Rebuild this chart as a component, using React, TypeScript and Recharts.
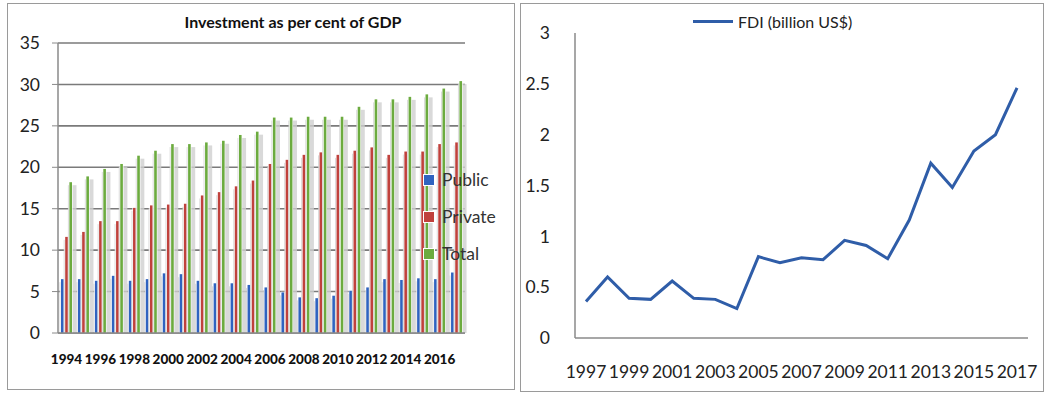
import { BarChart, Bar, LineChart, Line, XAxis, YAxis, CartesianGrid } from 'recharts';

const investYears = [
  '1994', '1995', '1996', '1997', '1998', '1999', '2000', '2001', '2002', '2003', '2004', '2005',
  '2006', '2007', '2008', '2009', '2010', '2011', '2012', '2013', '2014', '2015', '2016', '2017',
];
const publicInv = [6.5, 6.5, 6.3, 6.9, 6.3, 6.5, 7.2, 7.1, 6.3, 6.0, 6.0, 5.8, 5.5, 4.9, 4.3, 4.2, 4.5, 5.1, 5.5, 6.5, 6.4, 6.6, 6.5, 7.3];
const privateInv = [11.6, 12.2, 13.5, 13.5, 15.1, 15.4, 15.5, 15.6, 16.6, 17.0, 17.7, 18.4, 20.4, 20.9, 21.5, 21.8, 21.5, 22.0, 22.4, 21.5, 21.9, 21.9, 22.8, 23.0];
const totalInv = [18.2, 18.9, 19.8, 20.4, 21.4, 22.0, 22.8, 22.8, 23.0, 23.2, 23.9, 24.3, 26.0, 26.0, 26.1, 26.1, 26.1, 27.3, 28.2, 28.2, 28.5, 28.8, 29.5, 30.4];
const investTicks = [0, 5, 10, 15, 20, 25, 30, 35];
const investSeries = [
  { key: 'Public', color: '#2f63c0' },
  { key: 'Private', color: '#c0413c' },
  { key: 'Total', color: '#6cab3f' },
];

const fdiYears = [
  '1997', '1998', '1999', '2000', '2001', '2002', '2003', '2004', '2005', '2006', '2007',
  '2008', '2009', '2010', '2011', '2012', '2013', '2014', '2015', '2016', '2017',
];
const fdi = [0.36, 0.6, 0.39, 0.38, 0.56, 0.39, 0.38, 0.29, 0.8, 0.74, 0.79, 0.77, 0.96, 0.91, 0.78, 1.16, 1.72, 1.48, 1.84, 2.0, 2.46];
const fdiTicks = [0, 0.5, 1, 1.5, 2, 2.5, 3];

const investData = investYears.map((year, i) => ({
  year,
  Public: publicInv[i],
  Private: privateInv[i],
  Total: totalInv[i],
}));
const fdiData = fdiYears.map((year, i) => ({ year, fdi: fdi[i] }));

const FONT = 'Lato, "Open Sans", sans-serif';
const LINE_BLUE = '#2f5da8';

// thin bar with the soft grey shadow that the original chart had
function ShadowBar(props: any) {
  const { x, y, width, height, fill } = props;
  if (height <= 0) return null;
  return (
    <g>
      <rect x={x - 1.5} y={y + 3} width={width + 6} height={height - 3} fill="#cfcfcf" opacity={0.8} />
      <rect x={x - 0.6} y={y - 0.6} width={width + 1.2} height={height + 0.6} fill="#ffffff" />
      <rect x={x} y={y} width={width} height={height} fill={fill} />
    </g>
  );
}

export default function App() {
  return (
    <div style={{ position: 'fixed', left: 0, top: 0, width: 1050, height: 399, background: '#fff' }}>
      <div
        style={{
          position: 'absolute', left: 7, top: 3, width: 506, height: 385,
          border: '1px solid #9a9a9a', background: '#fff',
        }}
      >
        <div
          style={{
            position: 'absolute', left: 0, top: 8, width: 570, textAlign: 'center',
            fontFamily: FONT, fontWeight: 700, fontSize: 16, color: '#111',
          }}
        >
          Investment as per cent of GDP
        </div>
        <BarChart
          width={506}
          height={385}
          data={investData}
          margin={{ top: 39, right: 49, bottom: 26, left: 0 }}
          barSize={2.6}
          barGap={1.6}
        >
          <CartesianGrid vertical={false} stroke="#7a7a7a" strokeWidth={1.6} />
          <XAxis
            dataKey="year"
            interval={1}
            tickLine={false}
            axisLine={{ stroke: '#8a8a8a', strokeWidth: 1.5 }}
            height={30}
            tickMargin={15}
            tick={{ fontFamily: FONT, fontWeight: 900, fontSize: 13.5, fill: '#111' }}
          />
          <YAxis
            width={50}
            domain={[0, 35]}
            ticks={investTicks}
            interval={0}
            tickSize={6}
            tickMargin={12}
            tickLine={{ stroke: '#8a8a8a' }}
            axisLine={{ stroke: '#8a8a8a', strokeWidth: 1.5 }}
            tick={{ fontFamily: FONT, fontSize: 17.5, fill: '#222' }}
          />
          {investSeries.map((s) => (
            <Bar key={s.key} dataKey={s.key} fill={s.color} shape={<ShadowBar />} isAnimationActive={false} />
          ))}
        </BarChart>
        <div style={{ position: 'absolute', left: 415, top: 157, fontFamily: FONT }}>
          {investSeries.map((s) => (
            <div key={s.key} style={{ display: 'flex', alignItems: 'center', height: 37 }}>
              <div style={{ width: 10, height: 10, background: s.color, marginRight: 7, border: '1px solid #fff' }} />
              <span style={{ fontSize: 17.5, color: '#333' }}>{s.key}</span>
            </div>
          ))}
        </div>
      </div>

      <div
        style={{
          position: 'absolute', left: 520, top: 3, width: 522, height: 387,
          border: '1px solid #9a9a9a', background: '#fff',
        }}
      >
        <LineChart
          width={522}
          height={387}
          data={fdiData}
          margin={{ top: 29, right: 15, bottom: 23, left: 0 }}
        >
          <XAxis
            dataKey="year"
            interval={1}
            tickLine={false}
            padding={{ left: 11, right: 11 }}
            axisLine={{ stroke: '#8a8a8a', strokeWidth: 1.5 }}
            height={30}
            tickMargin={22}
            tick={{ fontFamily: FONT, fontSize: 17.5, fill: '#222' }}
          />
          <YAxis
            width={54}
            domain={[0, 3]}
            ticks={fdiTicks}
            interval={0}
            tickLine={false}
            tickMargin={19}
            axisLine={{ stroke: '#8a8a8a', strokeWidth: 1.5 }}
            tick={{ fontFamily: FONT, fontSize: 17.5, fill: '#222' }}
          />
          <Line
            type="linear"
            dataKey="fdi"
            stroke={LINE_BLUE}
            strokeWidth={3}
            dot={false}
            activeDot={false}
            isAnimationActive={false}
          />
        </LineChart>
        <div style={{ position: 'absolute', left: 172, top: 8, display: 'flex', alignItems: 'center', fontFamily: FONT }}>
          <div style={{ width: 40, height: 3, background: LINE_BLUE, marginRight: 5 }} />
          <span style={{ fontSize: 16, color: '#222' }}>FDI (billion US$)</span>
        </div>
      </div>
    </div>
  );
}
